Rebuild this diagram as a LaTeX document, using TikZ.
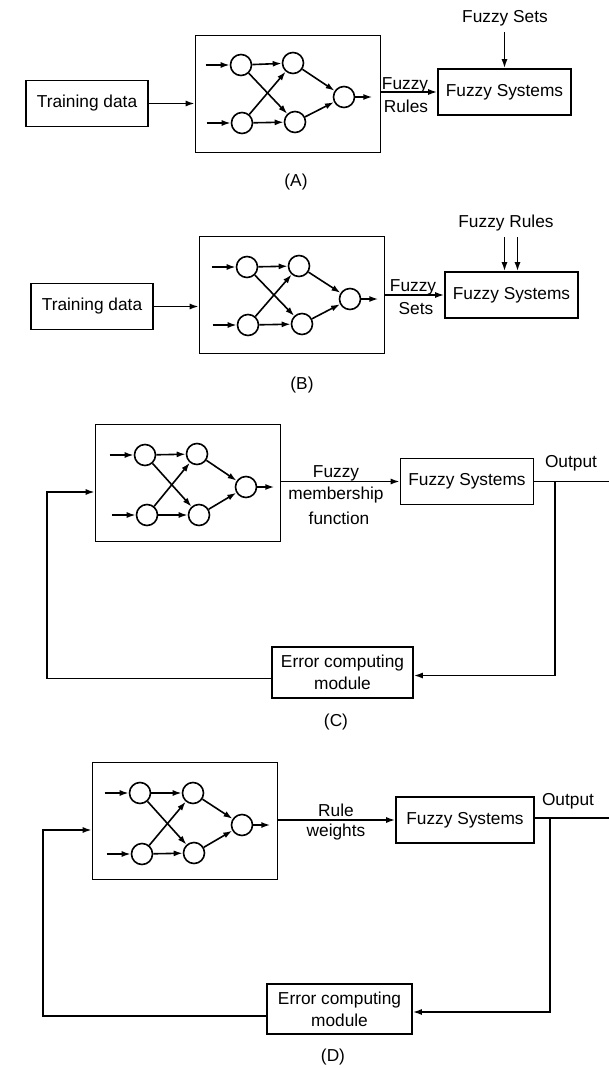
\documentclass[tikz,border=0pt]{standalone}
\usepackage{fontspec}
\setmainfont{Liberation Sans}
\usetikzlibrary{positioning,arrows.meta}
\tikzset{
  box/.style   ={draw, line width=1.6pt, align=center, inner sep=2pt,
                 font=\fontsize{17.3}{22}\selectfont},
  tdbox/.style ={box, minimum width=122pt, minimum height=46pt},
  fsbox/.style ={box, minimum width=133pt, minimum height=46pt},
  errbox/.style={box, minimum width=141pt, minimum height=51pt},
  % network frame, drawn empty
  netbox/.style={draw, line width=1.6pt, minimum width=185pt, minimum height=117pt},
  neuron/.style={circle, draw, line width=1.6pt, minimum size=21pt, inner sep=0pt},
  flow/.style  ={-{Latex[length=9pt,width=6pt]}, line width=1.6pt},
  wire/.style  ={line width=1.6pt},
  lbl/.style   ={inner sep=0pt, font=\fontsize{17.3}{22}\selectfont},
}
\begin{document}
\begin{tikzpicture}[x=1pt,y=-1pt]
    \useasboundingbox (0,0) rectangle (609,1068);
    % (A) network gives the rules
    \node[tdbox] (TA) at (87,103.5) {Training data};
    \node[netbox] (NA) at (288,94) {};
    \node[neuron] (A1) at (241,65) {};
    \node[neuron] (A2) at (242,123) {};
    \node[neuron] (A3) at (293,63) {};
    \node[neuron] (A4) at (295,122) {};
    \node[neuron] (A5) at (344,97) {};
    \draw[flow] ([xshift=-24pt]A1.west) -- (A1.west);
    \draw[flow] ([xshift=-24pt]A2.west) -- (A2.west);
    \draw[flow] (A1) -- (A3);
    \draw[flow] (A1) -- (A4);
    \draw[flow] (A2) -- (A3);
    \draw[flow] (A2) -- (A4);
    \draw[flow] (A3) -- (A5);
    \draw[flow] (A4) -- (A5);
    \draw[flow] (A5.east) -- ++(17,0);
    \node[fsbox] (FA) at (504.5,92) {Fuzzy Systems};
    \draw[flow] (TA.east) -- (TA.east -| NA.west);
    \draw[flow] (NA.east |- FA.west) -- (FA.west);
    \node[lbl] (LA1) at (405,85) {Fuzzy};
    \node[lbl] (LA2) at (406,106) {Rules};
    \node[lbl] (SA) at (505,18) {Fuzzy Sets};
    \draw[flow] (FA.north |- SA.south) ++(0,6) -- (FA.north);
    \node[lbl] (CapA) at (296,182) {(A)};
    % (B) network gives the sets
    \node[tdbox] (TB) at (92,306.5) {Training data};
    \node[netbox] (NB) at (292,295) {};
    \node[neuron] (B1) at (247,267) {};
    \node[neuron] (B2) at (248,325) {};
    \node[neuron] (B3) at (299,266) {};
    \node[neuron] (B4) at (302,324) {};
    \node[neuron] (B5) at (350,299) {};
    \draw[flow] ([xshift=-24pt]B1.west) -- (B1.west);
    \draw[flow] ([xshift=-24pt]B2.west) -- (B2.west);
    \draw[flow] (B1) -- (B3);
    \draw[flow] (B1) -- (B4);
    \draw[flow] (B2) -- (B3);
    \draw[flow] (B2) -- (B4);
    \draw[flow] (B3) -- (B5);
    \draw[flow] (B4) -- (B5);
    \draw[flow] (B5.east) -- ++(17,0);
    \node[fsbox] (FB) at (511.5,295) {Fuzzy Systems};
    \draw[flow] (TB.east) -- (TB.east -| NB.west);
    \draw[flow] (NB.east |- FB.west) -- (FB.west);
    \node[lbl] (LB1) at (413,287) {Fuzzy};
    \node[lbl] (LB2) at (416,309) {Sets};
    \node[lbl] (RB) at (506,223) {Fuzzy Rules};
    \coordinate (RB1) at ([xshift=-7pt]FB.north);
    \coordinate (RB2) at ([xshift=6pt]FB.north);
    \draw[flow] (RB1 |- RB.south) ++(0,6) -- (RB1);
    \draw[flow] (RB2 |- RB.south) ++(0,6) -- (RB2);
    \node[lbl] (CapB) at (302,385) {(B)};
    % (C) tuning the membership functions
    \node[netbox] (NC) at (188,483) {};
    \node[neuron] (C1) at (145,455) {};
    \node[neuron] (C2) at (147,515) {};
    \node[neuron] (C3) at (197,454) {};
    \node[neuron] (C4) at (199,515) {};
    \node[neuron] (C5) at (246,487) {};
    \draw[flow] ([xshift=-24pt]C1.west) -- (C1.west);
    \draw[flow] ([xshift=-24pt]C2.west) -- (C2.west);
    \draw[flow] (C1) -- (C3);
    \draw[flow] (C1) -- (C4);
    \draw[flow] (C2) -- (C3);
    \draw[flow] (C2) -- (C4);
    \draw[flow] (C3) -- (C5);
    \draw[flow] (C4) -- (C5);
    \draw[flow] (C5.east) -- ++(17,0);
    \node[fsbox] (FC) at (467,481.5) {Fuzzy Systems};
    \draw[flow] (NC.east |- FC.west) -- (FC.west);
    \node[lbl] (LC1) at (336,473) {Fuzzy};
    \node[lbl] (LC2) at (336,495) {membership};
    \node[lbl] (LC3) at (339,518) {function};
    \node[lbl] (OC) at (571,463) {Output};
    \coordinate (EndC) at (609,481.5);
    \coordinate (TapC) at (555,481.5);
    \draw[wire] (FC.east) -- (EndC);
    \node[errbox] (EC) at (342.5,672.5) {Error computing\\module};
    \draw[flow] (TapC) |- ([yshift=-3pt]EC.east);
    \coordinate (BackC) at (47,492);
    \draw[flow] ([yshift=-6pt]EC.west) -| (BackC) -- (BackC -| NC.west);
    \node[lbl] (CapC) at (336,722) {(C)};
    % (D) tuning the rule weights
    \node[netbox] (ND) at (185,821) {};
    \node[neuron] (D1) at (140,793) {};
    \node[neuron] (D2) at (142,854) {};
    \node[neuron] (D3) at (193,793) {};
    \node[neuron] (D4) at (194,853) {};
    \node[neuron] (D5) at (242,825) {};
    \draw[flow] ([xshift=-24pt]D1.west) -- (D1.west);
    \draw[flow] ([xshift=-24pt]D2.west) -- (D2.west);
    \draw[flow] (D1) -- (D3);
    \draw[flow] (D1) -- (D4);
    \draw[flow] (D2) -- (D3);
    \draw[flow] (D2) -- (D4);
    \draw[flow] (D3) -- (D5);
    \draw[flow] (D4) -- (D5);
    \draw[flow] (D5.east) -- ++(17,0);
    \node[fsbox, minimum width=138pt] (FD) at (465,820) {Fuzzy Systems};
    \draw[flow] (ND.east |- FD.west) -- (FD.west);
    \node[lbl] (LD1) at (336,810) {Rule};
    \node[lbl] (LD2) at (336,832) {weights};
    \node[lbl] (OD) at (568,801) {Output};
    \coordinate (EndD) at (609,818);
    \coordinate (TapD) at (550,818);
    \draw[wire] (FD.east |- EndD) -- (EndD);
    \node[errbox, minimum width=145pt, minimum height=50pt] (ED) at (339.5,1009) {Error computing\\module};
    \draw[flow] (TapD) |- ([yshift=-3pt]ED.east);
    \coordinate (BackD) at (43,830);
    \draw[flow] ([yshift=-7pt]ED.west) -| (BackD) -- (BackD -| ND.west);
    \node[lbl] (CapD) at (333,1057) {(D)};
  \end{tikzpicture}
\end{document}
